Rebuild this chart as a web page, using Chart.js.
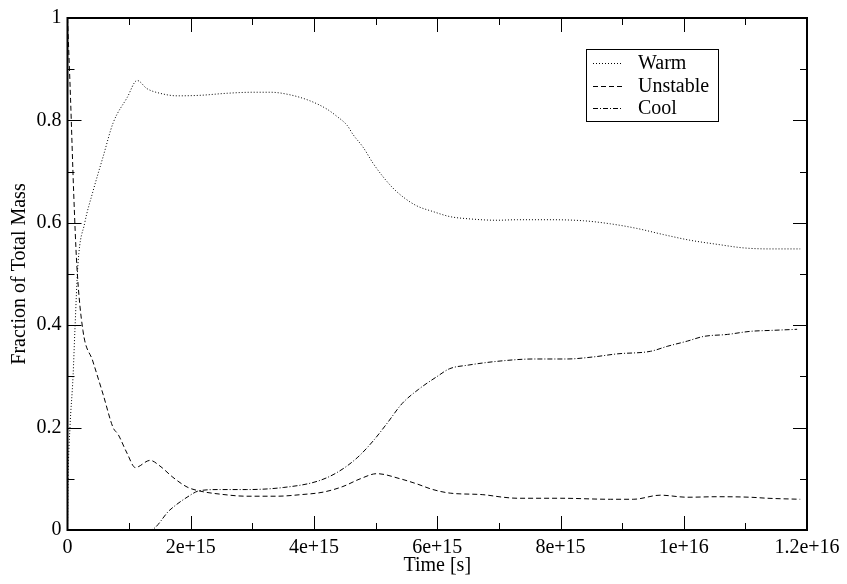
<!DOCTYPE html>
<html>
<head>
<meta charset="utf-8">
<script src="https://cdn.jsdelivr.net/npm/chart.js@4/dist/chart.umd.min.js"></script>
<style>
  html, body { margin: 0; padding: 0; background: #fff; }
  canvas { display: block; }
</style>
</head>
<body>
<canvas id="plot" width="847" height="584"></canvas>
<script>
// data, time in units of 1e15 s

const warmTime = [0, 0.01, 0.04, 0.09, 0.12, 0.17, 0.28, 0.41, 0.58, 0.74, 0.97, 1.13, 1.29, 1.5, 1.78, 2.15, 2.59, 3.01, 3.29, 3.61, 3.94, 4.21, 4.37, 4.54, 4.63, 4.8, 4.96, 5.12, 5.28, 5.45, 5.67, 5.93, 6.21, 6.49, 6.97, 7.3, 7.83, 8.37, 8.81, 9.24, 9.67, 10.1, 10.54, 10.97, 11.4, 11.89]
const warmFrac = [0, 0.1, 0.2, 0.3, 0.39, 0.52, 0.6, 0.66, 0.73, 0.795, 0.845, 0.878, 0.862, 0.853, 0.848, 0.849, 0.853, 0.855, 0.855, 0.85, 0.838, 0.822, 0.808, 0.79, 0.773, 0.747, 0.716, 0.69, 0.668, 0.65, 0.633, 0.622, 0.612, 0.608, 0.605, 0.606, 0.606, 0.604, 0.598, 0.589, 0.577, 0.566, 0.558, 0.551, 0.549, 0.549]

const unstableTime = [0, 0.05, 0.1, 0.15, 0.25, 0.41, 0.58, 0.74, 0.82, 0.97, 1.1, 1.34, 1.5, 1.71, 1.94, 2.15, 2.48, 2.91, 3.4, 3.78, 4.15, 4.47, 4.75, 5.02, 5.4, 5.67, 5.93, 6.21, 6.74, 7.07, 7.3, 7.83, 8.0, 8.81, 9.18, 9.62, 10.06, 10.54, 11.08, 11.36, 11.89]
const unstableFrac = [1, 0.84, 0.66, 0.52, 0.39, 0.33, 0.264, 0.2, 0.187, 0.149, 0.122, 0.136, 0.125, 0.103, 0.084, 0.076, 0.07, 0.066, 0.066, 0.069, 0.074, 0.085, 0.1, 0.11, 0.1, 0.09, 0.079, 0.072, 0.069, 0.064, 0.062, 0.062, 0.062, 0.06, 0.06, 0.068, 0.064, 0.065, 0.064, 0.062, 0.06]

const coolTime = [0, 1.34, 1.66, 1.94, 2.15, 2.48, 2.91, 3.5, 4.05, 4.37, 4.7, 4.96, 5.19, 5.43, 5.7, 6.0, 6.2, 6.5, 7.02, 7.56, 8.1, 8.53, 8.92, 9.46, 9.74, 10.06, 10.32, 10.71, 11.08, 11.45, 11.84]
const coolFrac = [0, 0, 0.039, 0.064, 0.077, 0.079, 0.079, 0.083, 0.095, 0.112, 0.141, 0.174, 0.209, 0.247, 0.275, 0.3, 0.315, 0.322, 0.33, 0.334, 0.334, 0.338, 0.344, 0.349, 0.359, 0.369, 0.378, 0.382, 0.388, 0.39, 0.392]

const seriesNames = ['Warm', 'Unstable', 'Cool']
const xTickLabels = {0: '0', 2: '2e+15', 4: '4e+15', 6: '6e+15', 8: '8e+15', 10: '1e+16', 12: '1.2e+16'}

const FONT = '"Liberation Serif", "Times New Roman", serif'
const dashes = [[1, 2], [5, 3], [5, 2, 1, 2]]

function toPoints(ts, vs) {
  return ts.map((t, i) => ({x: t, y: vs[i]}))
}

// frame with inward ticks on all four sides, plus legend box
const framePlugin = {
  id: 'frame',
  afterDraw(chart) {
    const ctx = chart.ctx
    const a = chart.chartArea
    const xs = chart.scales.x
    const ys = chart.scales.y
    ctx.save()
    ctx.strokeStyle = '#000'
    ctx.lineWidth = 1
    for (let k = 1; k < 12; k++) {
      const px = Math.round(xs.getPixelForValue(k)) + 0.5
      const len = k % 2 === 0 ? 14 : 7
      ctx.beginPath()
      ctx.moveTo(px, a.bottom); ctx.lineTo(px, a.bottom - len)
      ctx.moveTo(px, a.top); ctx.lineTo(px, a.top + len)
      ctx.stroke()
    }
    for (let k = 1; k < 10; k++) {
      const py = Math.round(ys.getPixelForValue(k / 10)) + 0.5
      const len = k % 2 === 0 ? 14 : 7
      ctx.beginPath()
      ctx.moveTo(a.left, py); ctx.lineTo(a.left + len, py)
      ctx.moveTo(a.right, py); ctx.lineTo(a.right - len, py)
      ctx.stroke()
    }
    ctx.lineWidth = 2
    ctx.strokeRect(a.left, a.top, a.right - a.left, a.bottom - a.top)

    // legend
    const lx = 586, ly = 49, lw = 132, lh = 72
    ctx.fillStyle = '#fff'
    ctx.fillRect(lx, ly, lw, lh)
    ctx.lineWidth = 1
    ctx.strokeRect(lx + 0.5, ly + 0.5, lw, lh)
    ctx.font = '20px ' + FONT
    ctx.fillStyle = '#000'
    ctx.textBaseline = 'middle'
    seriesNames.forEach((name, i) => {
      const y = ly + 14 + i * 22.5
      ctx.setLineDash(dashes[i])
      ctx.beginPath()
      ctx.moveTo(lx + 7, Math.round(y) + 0.5)
      ctx.lineTo(lx + 37, Math.round(y) + 0.5)
      ctx.stroke()
      ctx.setLineDash([])
      ctx.fillText(name, lx + 52, y + 1)
    })
    ctx.restore()
  }
}

const chart = new Chart(
  document.getElementById('plot'),
  {
    type: 'line',
    data: {
      datasets: [
        {label: seriesNames[0], data: toPoints(warmTime, warmFrac), borderDash: dashes[0]},
        {label: seriesNames[1], data: toPoints(unstableTime, unstableFrac), borderDash: dashes[1]},
        {label: seriesNames[2], data: toPoints(coolTime, coolFrac), borderDash: dashes[2]}
      ]
    },
    options: {
      responsive: false,
      animation: false,
      events: [],
      layout: {padding: {top: 12, right: 40, left: 0, bottom: 0}},
      elements: {
        line: {borderColor: '#000', borderWidth: 1, cubicInterpolationMode: 'monotone', fill: false},
        point: {radius: 0}
      },
      plugins: {
        legend: {display: false},
        tooltip: {enabled: false}
      },
      scales: {
        x: {
          type: 'linear',
          min: 0,
          max: 12,
          afterFit: s => { s.height = 54 },
          afterBuildTicks: s => { s.ticks = [0, 2, 4, 6, 8, 10, 12].map(v => ({value: v})) },
          grid: {display: false, drawTicks: false},
          border: {display: false},
          ticks: {
            color: '#000',
            padding: 6,
            maxRotation: 0,
            font: {family: FONT, size: 20},
            callback: v => xTickLabels[v]
          },
          title: {display: true, text: 'Time [s]', color: '#000', font: {family: FONT, size: 20}, padding: {top: 0, bottom: 6}}
        },
        y: {
          min: 0,
          max: 1,
          afterFit: s => { s.width = 67.5 },
          afterBuildTicks: s => { s.ticks = [0, 0.2, 0.4, 0.6, 0.8, 1].map(v => ({value: v})) },
          grid: {display: false, drawTicks: false},
          border: {display: false},
          ticks: {
            color: '#000',
            padding: 6,
            font: {family: FONT, size: 20},
            callback: v => String(Math.round(v * 10) / 10)
          },
          title: {display: true, text: 'Fraction of Total Mass', color: '#000', font: {family: FONT, size: 20}, padding: {top: 8, bottom: 0}}
        }
      }
    },
    plugins: [framePlugin]
  }
)
</script>
</body>
</html>
